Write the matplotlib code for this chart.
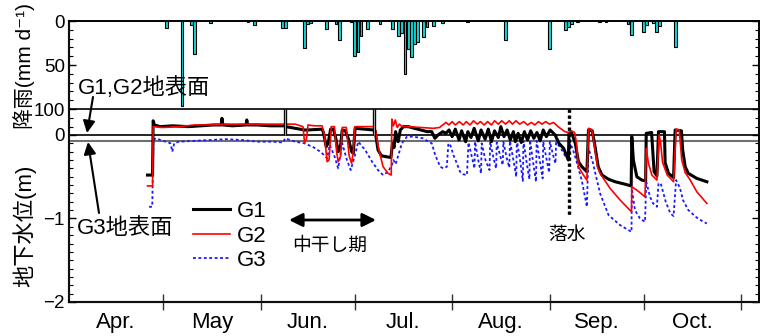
import matplotlib
matplotlib.use("Agg")
import matplotlib.pyplot as plt
from matplotlib.ticker import FixedLocator, NullFormatter

plt.rcParams['font.family'] = ['Liberation Sans', 'Noto Sans CJK JP', 'DejaVu Sans']

# ---------------- data (day 0 = 1 April) ----------------
month_names = ['Apr.', 'May', 'Jun.', 'Jul.', 'Aug.', 'Sep.', 'Oct.']
month_starts = [0, 30, 61, 91, 122, 153, 183, 214]

rain_day = [31, 36, 39, 40, 45, 57, 59, 68, 69, 75, 76, 77, 82, 85, 86, 90, 91, 92, 93,
            95, 99, 103, 105, 106, 107, 108, 109, 110, 111, 113, 114, 116, 119, 127,
            139, 153, 158, 159, 160, 162, 169, 171, 178, 179, 183, 184, 186, 187, 188, 193]
rain_mm = [8, 96.6, 4.5, 37, 2, 1, 4, 8, 8, 31, 3.4, 2, 9, 3, 21.6, 1, 40, 35, 17,
           9, 3, 9.5, 16.7, 14, 60, 32, 40.5, 26.5, 23.5, 17.8, 6.4, 5.3, 2, 0.8,
           22, 32, 10, 6.4, 3.4, 1, 1, 1, 3, 16, 12, 4.5, 2, 12, 5.7, 29]

g1_day = [25.0, 26.6, 26.8, 27.2, 29, 33, 38, 42, 46, 48.5, 48.7, 49, 52, 56.4, 56.6, 56.9,
          60, 64, 68.5, 69, 72, 75, 76, 80.6, 81, 81.9, 82.5, 83.3, 84.2, 85.0, 85.7, 86.5,
          87.0, 88.0, 89.0, 90.0, 90.5, 91.1, 94, 97, 97.5, 98.4, 99.5, 101, 102.5, 103.0,
          103.5, 104.0, 104.8, 105.5, 106.5, 108, 110, 112, 114, 115.5, 116.5, 117.5, 119, 120,
          121, 122, 123, 124.2, 125, 126.3, 127, 128, 129, 130.3, 131.2, 132.5, 133.5, 134.5,
          135.5, 136.7, 137.5, 138.5, 139.5, 140.5, 141.5, 142.1, 143, 144, 145, 146, 147, 148,
          149, 150, 151, 152, 153.2, 154.8, 156, 157.5, 159.0, 159.2, 160, 161.2, 162.2, 163.3,
          164.9, 165.4, 166.6, 167.5, 168.5, 169.7, 171.8, 173.9, 177.1, 179.0, 179.2, 179.7,
          180.8, 182.4, 183.6, 183.8, 185.5, 185.8, 186.3, 187.2, 187.7, 189.6, 189.8, 190.9,
          192.5, 193.0, 195.0, 195.4, 196.2, 197.2, 199.9, 203.1]
g1_val = [-0.48, -0.48, 0.17, 0.12, 0.10, 0.11, 0.10, 0.11, 0.12, 0.12, 0.20, 0.12, 0.11, 0.12, 0.18, 0.12,
          0.12, 0.11, 0.11, 0.10, 0.08, 0.06, 0.06, 0.07, 0.03, -0.14, -0.10, 0.07, 0.07, -0.05, -0.20, -0.12,
          0.06, 0.05, -0.05, -0.20, -0.22, 0.08, 0.07, 0.06, 0.04, -0.18, -0.25, -0.26, -0.27, -0.10,
          -0.15, 0.04, -0.08, 0.06, 0.10, 0.10, 0.08, 0.06, 0.04, 0.04, -0.04, 0.00, 0.04, 0.02,
          0.06, -0.02, 0.07, -0.06, 0.05, -0.08, 0.04, -0.03, 0.08, -0.07, 0.06, -0.05, 0.07, -0.08,
          0.05, -0.03, 0.10, -0.02, 0.06, -0.06, 0.04, -0.08, 0.02, -0.09, 0.04, -0.06, 0.05, -0.04,
          0.03, -0.07, 0.06, -0.02, 0.06, 0.00, -0.10, -0.16, -0.30, 0.02, 0.03, -0.10, -0.32, -0.38,
          -0.44, 0.06, 0.05, -0.14, -0.38, -0.48, -0.53, -0.56, -0.59, -0.61, -0.02, -0.30,
          -0.50, -0.54, -0.55, 0.02, 0.03, -0.15, -0.44, -0.49, 0.04, 0.04, -0.33, -0.46,
          -0.51, 0.06, 0.05, -0.18, -0.38, -0.46, -0.52, -0.56]

g2_day = [25.0, 26.6, 26.8, 30, 35, 40, 45, 50, 55, 60, 64, 68, 69.5, 72, 74.5, 75.0, 75.6, 76.1,
          78, 80.6, 81.3, 82.2, 82.8, 83.5, 84.5, 85.2, 85.7, 86.5, 87.0, 88.3, 89.2, 90.0, 90.5,
          91.0, 94, 97, 97.7, 98.5, 100.0, 101.6, 102.6, 102.8, 103.3, 103.9, 104.5, 105.2, 106,
          108, 112, 116, 118, 120.0, 121, 122, 123, 124.3, 125.5, 126.5, 127.7, 128.8, 130, 131,
          132.2, 133.3, 134.5, 135.5, 136.7, 137.8, 139, 140.2, 141.2, 142.3, 143.5, 144.8, 146,
          147.2, 148.3, 149.5, 150.6, 151.8, 153, 154.3, 155.7, 157.9, 159.0, 160, 161.0, 161.6,
          162.2, 163.8, 164.9, 165.4, 166.3, 166.6, 167.5, 168.3, 169.1, 172.3, 175.5, 179.1,
          179.2, 180.8, 183.4, 183.8, 184.5, 185.6, 187.2, 187.9, 188.4, 189.0, 190.5, 192.5,
          193.3, 194.3, 195.1, 196.2, 197.8, 199.9, 203.1]
g2_val = [-0.61, -0.61, 0.10, 0.09, 0.10, 0.12, 0.12, 0.13, 0.13, 0.13, 0.13, 0.13, 0.13, 0.13, 0.10, -0.09, -0.05, 0.12,
          0.11, 0.11, 0.00, -0.32, -0.30, 0.10, 0.10, -0.20, -0.32, -0.25, 0.09, 0.09, -0.25, -0.34, -0.20,
          0.10, 0.10, 0.10, 0.05, -0.15, -0.38, -0.46, -0.48, 0.19, 0.11, 0.18, 0.09, 0.13, 0.10,
          0.10, 0.09, 0.08, 0.09, 0.15, 0.12, 0.16, 0.12, 0.16, 0.12, 0.16, 0.12, 0.17, 0.13, 0.16,
          0.12, 0.16, 0.12, 0.17, 0.13, 0.17, 0.13, 0.17, 0.13, 0.17, 0.13, 0.16, 0.12,
          0.15, 0.12, 0.16, 0.13, 0.16, 0.13, 0.15, 0.10, 0.04, 0.03, 0.05, 0.03, -0.10,
          -0.38, -0.48, -0.54, 0.08, 0.07, 0.04, -0.18, -0.38, -0.46, -0.64, -0.78, -0.92,
          -0.62, -0.66, -0.74, -0.16, -0.34, -0.48, -0.54, 0.00, -0.10, -0.33, -0.48, -0.56,
          0.07, 0.06, -0.30, -0.45, -0.54, -0.68, -0.82]

g3_day = [25.5, 26.5, 26.9, 28, 29.5, 31, 32.3, 32.9, 33.5, 35, 40, 45, 50, 55, 60, 65, 68.2,
          68.8, 72, 75, 78, 80, 81.5, 82.2, 83.0, 84.5, 85.7, 87.0, 88.5, 89.7, 91.0, 92.1, 94.3,
          96.5, 98.4, 100.0, 101.6, 102.8, 103.3, 104.0, 106.0, 107.6, 109.6, 112.8, 114.4, 115.5,
          116.6, 118.2, 119.2, 120.3, 120.8, 121.5, 122.4, 123.5, 124.5, 125.5, 126.7,
          127.2, 128.2, 129.1, 129.3, 130.3, 131.2, 131.4, 132.6, 133.9, 134.1, 135.2, 136.0,
          136.2, 137.3, 138.1, 138.3, 139.4, 140.2, 140.4, 141.5, 142.4, 142.6, 143.7, 144.5,
          144.7, 145.8, 146.6, 146.8, 147.9, 148.7, 148.9, 150.0, 150.8, 151.0, 152.1, 152.9,
          153.1, 154.2, 154.9, 155.1, 156.5, 158.0, 159.0, 159.6, 160.5, 161.5, 163.3, 164.9,
          165.4, 166.6, 168.1, 169.1, 171.8, 175.5, 179.1, 179.2, 180.2, 181.8, 183.4, 183.8,
          185.0, 186.0, 187.2, 187.7, 188.4, 189.0, 190.0, 191.5, 192.5, 193.3, 194.5, 195.5,
          197.2, 199.9, 202.0, 203.1]
g3_val = [-0.86, -0.86, -0.05, -0.04, -0.07, -0.08, -0.10, -0.20, -0.10, -0.08, -0.07, -0.06, -0.05, -0.06, -0.08, -0.08, -0.09,
          -0.04, -0.08, -0.10, -0.15, -0.20, -0.25, -0.28, -0.12, -0.25, -0.40, -0.10, -0.30, -0.42, -0.25, -0.08, -0.18,
          -0.32, -0.42, -0.48, -0.44, -0.36, -0.30, -0.35, -0.10, -0.02, -0.02, -0.04, -0.08, -0.10,
          -0.24, -0.38, -0.40, -0.38, -0.10, -0.13, -0.24, -0.34, -0.44, -0.47, -0.48,
          -0.09, -0.25, -0.40, -0.08, -0.30, -0.46, -0.10, -0.30, -0.42, -0.08, -0.28, -0.40,
          -0.09, -0.25, -0.36, -0.08, -0.28, -0.39, -0.07, -0.30, -0.50, -0.06, -0.32, -0.55,
          -0.07, -0.35, -0.53, -0.06, -0.36, -0.56, -0.07, -0.33, -0.52, -0.08, -0.30, -0.45,
          -0.08, -0.25, -0.34, -0.09, -0.15, -0.25, -0.30, -0.10, -0.18, -0.30, -0.55, -0.86,
          -0.16, -0.30, -0.54, -0.70, -0.96, -1.08, -1.16, -0.64, -0.90, -1.00, -1.04, -0.56,
          -0.74, -0.82, -0.86, -0.58, -0.58, -0.66, -0.80, -0.94, -0.97, -0.54, -0.63, -0.78,
          -0.90, -0.99, -1.04, -1.06]

g3_surface = -0.072
event_days = [68.8, 97.0]
drain_day = 159.2
rain_top_line = 100

# ---------------- figure ----------------
W, H = 760, 336
fig = plt.figure(figsize=(W / 100, H / 100), dpi=100)
ax = fig.add_axes([69 / W, 1 - 302 / H, 690 / W, 281 / H])

gw_top = 1.365
ax.set_xlim(0, 219.7)
ax.set_ylim(-2, gw_top)

ax.plot(g1_day, g1_val, color='black', lw=2.2, label='G1', zorder=3)
ax.plot(g2_day, g2_val, color='#ff0000', lw=1.2, label='G2', zorder=4)
ax.plot(g3_day, g3_val, color='#1a1aff', lw=1.3, ls=(0, (1.6, 1.4)), label='G3', zorder=2)

ax.axhline(0, color='black', lw=1.2, zorder=1)
ax.axhline(g3_surface, color='#707070', lw=1.5, zorder=1)

# rain axis (inverted) sharing the same frame
ax2 = ax.twinx()
ax2.set_ylim(100 * 281 / 88, 0)
ax2.bar(rain_day, rain_mm, width=0.9, color='#14d8d8', edgecolor='black', lw=0.8, zorder=2)
ax2.axhline(rain_top_line, color='black', lw=1.2)

# event marks between the 100 line and ground surface
line_top = (135 - 109) / 83.5
for d in event_days:
    ax.plot([d, d], [0, line_top], color='black', lw=2.4, solid_capstyle='butt', zorder=5)
    ax.plot([d, d], [0, line_top], color='#a0a0a0', lw=0.8, solid_capstyle='butt', zorder=6)
ax.plot([drain_day, drain_day], [line_top, -0.98], color='black', lw=2.4,
        ls=(0, (1.0, 0.8)), zorder=6)

# ---- axis styling ----
for a in (ax, ax2):
    for s in a.spines.values():
        s.set_linewidth(1.2)
ax.spines['left'].set_color('#555555')
ax.spines['bottom'].set_color('#555555')
ax.spines['left'].set_linewidth(1.6)
ax.spines['bottom'].set_linewidth(1.6)

minor_gw = []
for i in range(22):
    v = round(-1.9 + 0.1 * i, 2)
    if abs(v + 1) > 1e-6 and abs(v) > 1e-6:
        minor_gw.append(v)
ax.yaxis.set_major_locator(FixedLocator([-2, -1, 0]))
ax.yaxis.set_minor_locator(FixedLocator(minor_gw))
ax.tick_params(axis='y', which='both', direction='in', left=True, right=True, labelsize=13.5, pad=3)
ax.tick_params(axis='y', which='major', length=5, width=1)
ax.tick_params(axis='y', which='minor', length=3, width=0.8)

ax2.yaxis.set_major_locator(FixedLocator([0, 50, 100]))
ax2.yaxis.set_minor_locator(FixedLocator([10, 20, 30, 40, 60, 70, 80, 90]))
ax2.tick_params(axis='y', which='both', direction='in', left=True, right=True,
                labelleft=True, labelright=False, labelsize=13.5, pad=3)
ax2.tick_params(axis='y', which='major', length=5, width=1)
ax2.tick_params(axis='y', which='minor', length=3, width=0.8)

ax.xaxis.set_major_locator(FixedLocator(month_starts[1:]))
ax.xaxis.set_major_formatter(NullFormatter())
ax.xaxis.set_minor_locator(FixedLocator([(month_starts[i] + month_starts[i + 1]) / 2 for i in range(7)]))
ax.set_xticklabels(month_names, minor=True)
ax.tick_params(axis='x', which='major', direction='inout', length=11, width=1, color='#333333')
ax.tick_params(axis='x', which='minor', length=0, labelsize=16, pad=7)

# ---- labels ----
fig.text(24 / W, 1 - 66 / H, '降雨(mm d⁻¹)', rotation=90, ha='center', va='center', fontsize=15)
fig.text(24 / W, 1 - 226 / H, '地下水位(m)', rotation=90, ha='center', va='center', fontsize=16)

ax.legend(loc='upper left', bbox_to_anchor=(193 / W, 1 - 201 / H), bbox_transform=fig.transFigure,
          frameon=False, fontsize=16, handlelength=1.67, handletextpad=0.32, labelspacing=0.16,
          borderaxespad=0, borderpad=0)

fig.text(78 / W, 1 - 88 / H, 'G1,G2地表面', ha='left', va='center', fontsize=16)
fig.text(77 / W, 1 - 229 / H, 'G3地表面', ha='left', va='center', fontsize=16)
ap = dict(arrowstyle='-|>', color='black', lw=1.5, mutation_scale=18, shrinkA=0, shrinkB=0)
ax.annotate('', xy=(87, H - 133), xytext=(93, H - 97), xycoords='figure pixels',
            textcoords='figure pixels', arrowprops=ap)
ax.annotate('', xy=(88, H - 142), xytext=(99, H - 213), xycoords='figure pixels',
            textcoords='figure pixels', arrowprops=ap)

ax.annotate('', xy=(376, H - 220), xytext=(289, H - 220), xycoords='figure pixels',
            textcoords='figure pixels',
            arrowprops=dict(arrowstyle='<|-|>', color='black', lw=2, mutation_scale=20,
                            shrinkA=0, shrinkB=0))
fig.text(330 / W, 1 - 246 / H, '中干し期', ha='center', va='center', fontsize=13.5)
fig.text(567 / W, 1 - 235 / H, '落水', ha='center', va='center', fontsize=13.5)

fig.savefig('out.png', dpi=100)
